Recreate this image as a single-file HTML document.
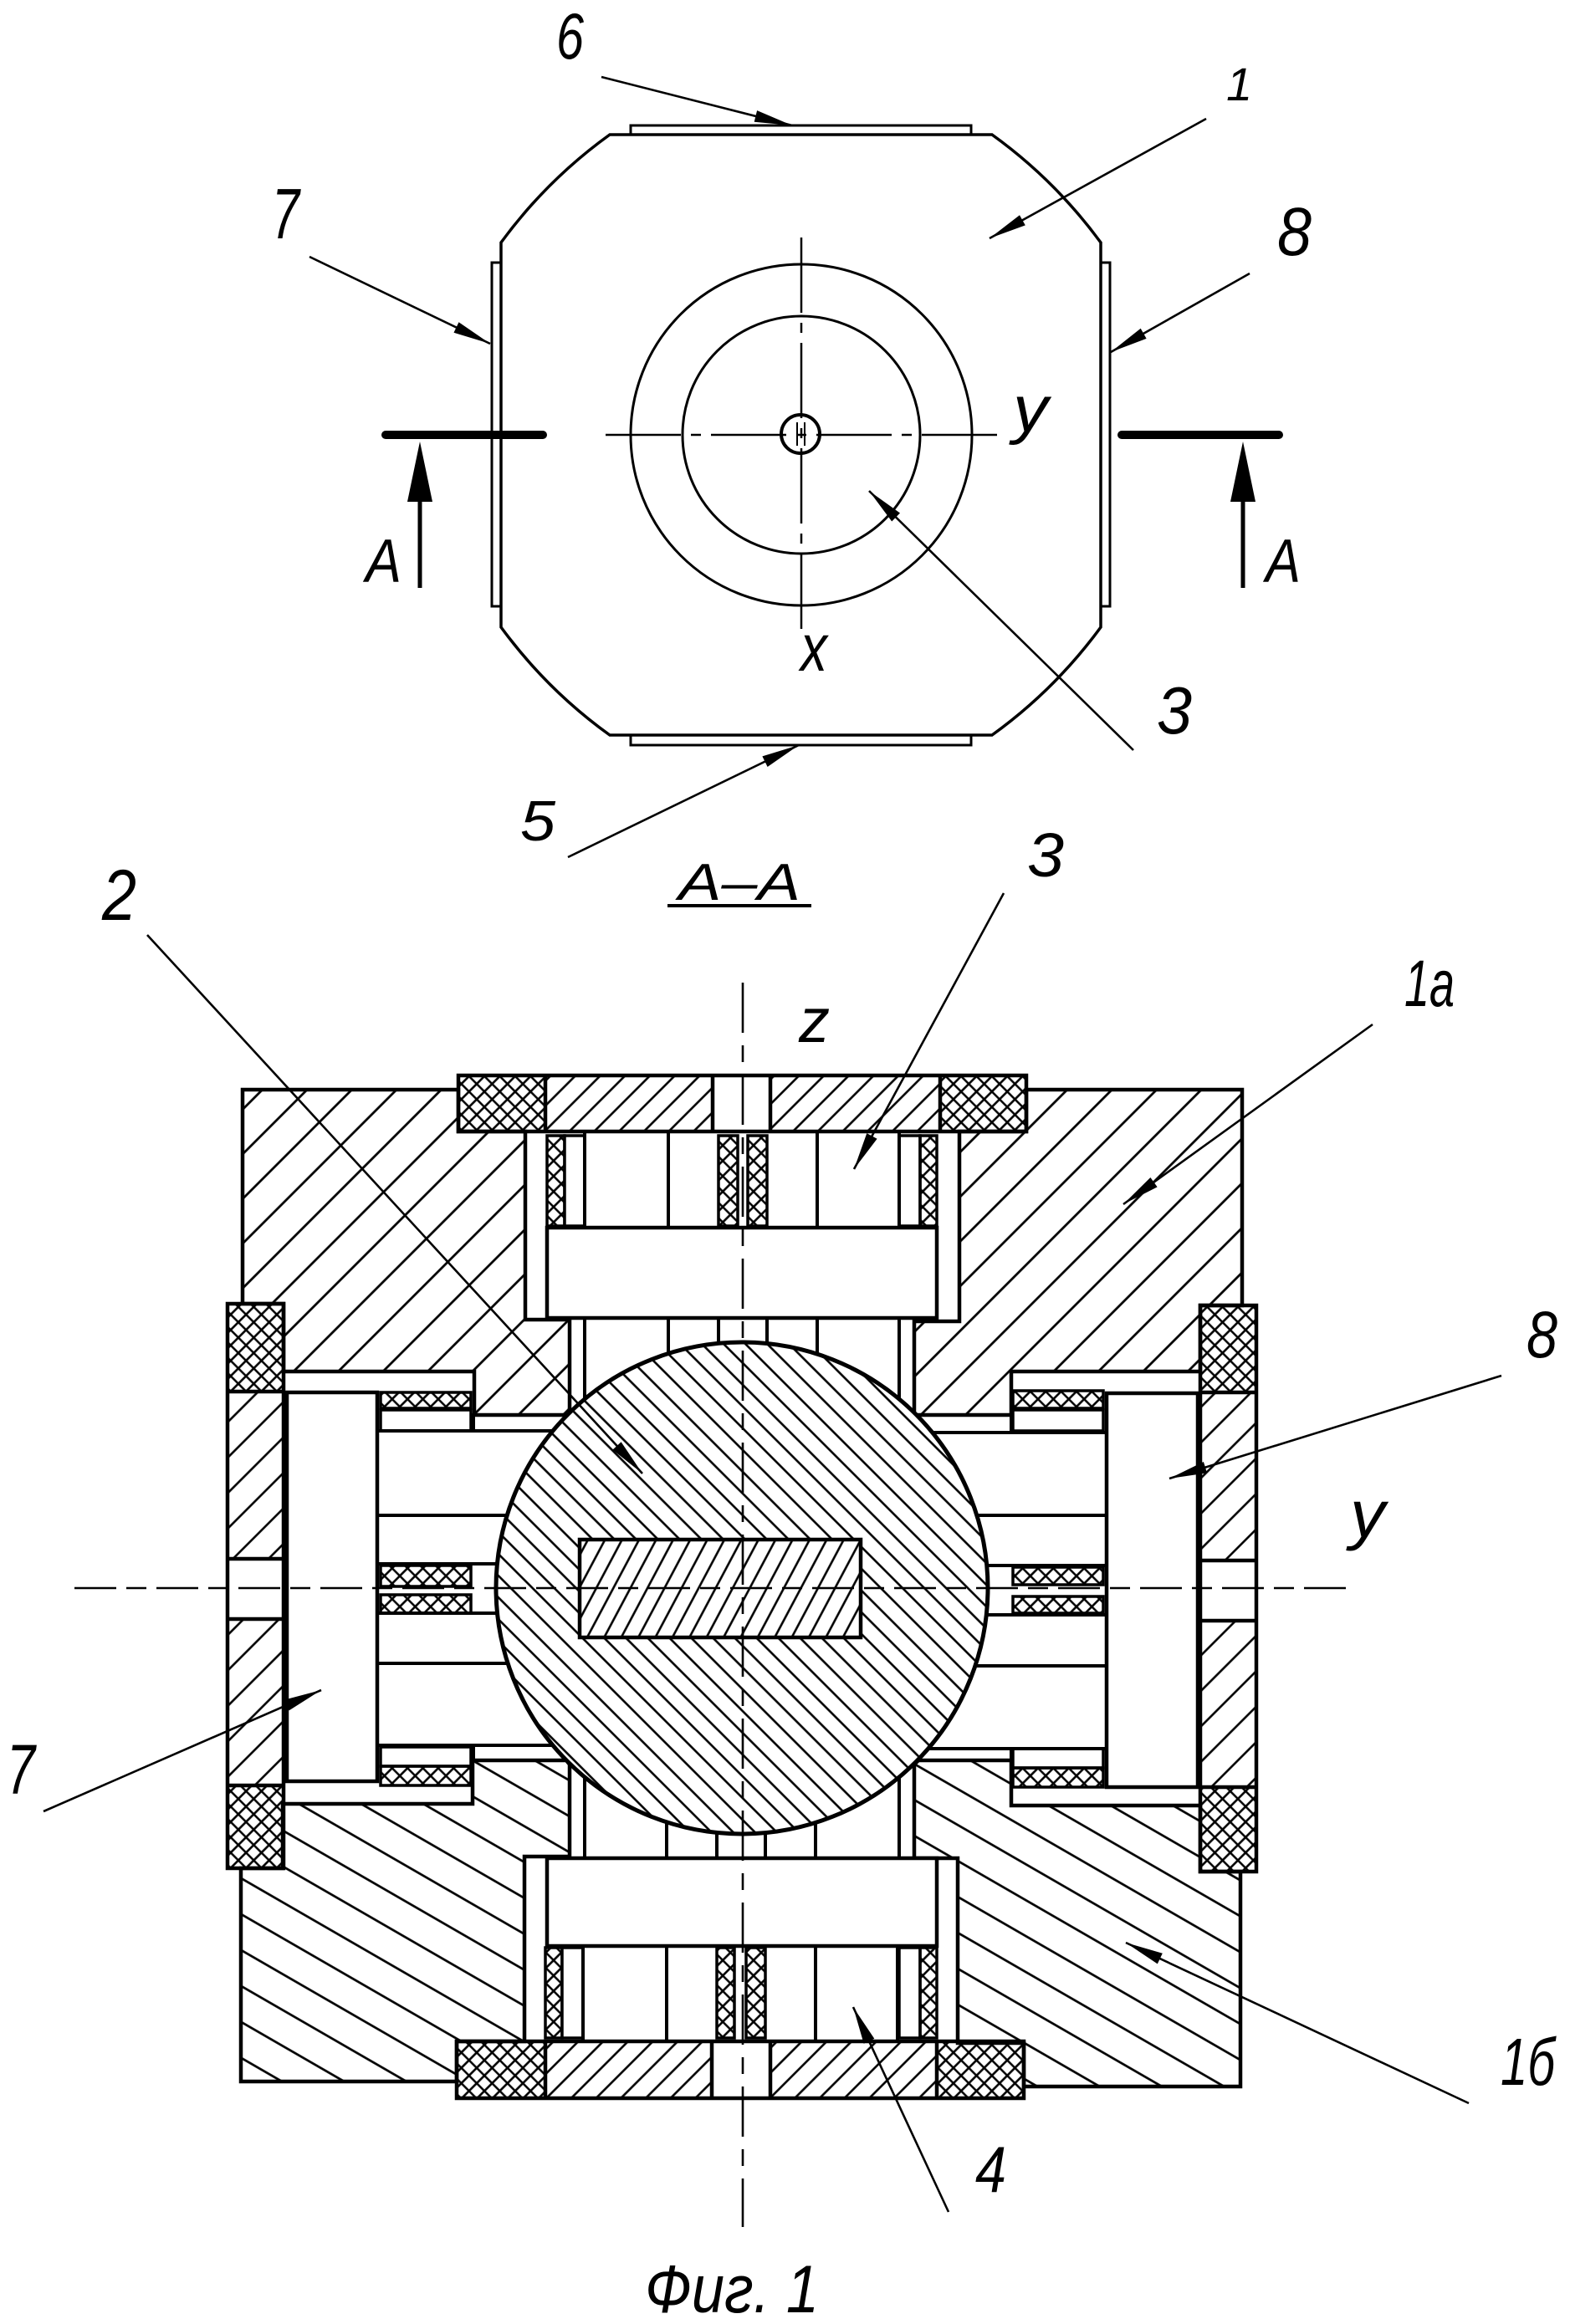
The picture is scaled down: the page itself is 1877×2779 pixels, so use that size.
<!DOCTYPE html>
<html>
<head>
<meta charset="utf-8">
<style>
html,body{margin:0;padding:0;background:#fff;}
body{width:1877px;height:2779px;overflow:hidden;}
svg{display:block;}
text{font-family:"Liberation Sans","DejaVu Sans",sans-serif;font-style:italic;fill:#000;}
</style>
</head>
<body>
<svg width="1877" height="2779" viewBox="0 0 1877 2779" xmlns="http://www.w3.org/2000/svg">
<defs>
  <pattern id="p1a" patternUnits="userSpaceOnUse" width="37.8" height="20" patternTransform="rotate(45)">
    <line x1="9.2" y1="-2" x2="9.2" y2="22" stroke="#000" stroke-width="2.8"/>
  </pattern>
  <pattern id="p1b" patternUnits="userSpaceOnUse" width="20" height="37.2" patternTransform="rotate(30)">
    <line x1="-2" y1="15.4" x2="22" y2="15.4" stroke="#000" stroke-width="2.8"/>
  </pattern>
  <pattern id="pball" patternUnits="userSpaceOnUse" width="18.4" height="20" patternTransform="rotate(-45)">
    <line x1="9" y1="-2" x2="9" y2="22" stroke="#000" stroke-width="2.6"/>
  </pattern>
  <pattern id="pkey" patternUnits="userSpaceOnUse" width="18" height="20" patternTransform="rotate(28)">
    <line x1="9" y1="-2" x2="9" y2="22" stroke="#000" stroke-width="2.6"/>
  </pattern>
  <pattern id="pplate" patternUnits="userSpaceOnUse" width="21" height="20" patternTransform="rotate(45)">
    <line x1="10" y1="-2" x2="10" y2="22" stroke="#000" stroke-width="2.6"/>
  </pattern>
  <pattern id="pside" patternUnits="userSpaceOnUse" width="30" height="20" patternTransform="rotate(45)">
    <line x1="15" y1="-2" x2="15" y2="22" stroke="#000" stroke-width="2.6"/>
  </pattern>
  <pattern id="px" patternUnits="userSpaceOnUse" width="13" height="13" patternTransform="rotate(45)">
    <path d="M6.5,-1 V14 M-1,6.5 H14" stroke="#000" stroke-width="2.6" fill="none"/>
  </pattern>
</defs>

<rect x="0" y="0" width="1877" height="2779" fill="#fff"/>

<!-- ================= TOP VIEW ================= -->
<g fill="#fff" stroke="#000" stroke-width="3">
  <rect x="754" y="150" width="407" height="11"/>
  <rect x="754" y="879" width="407" height="12"/>
  <rect x="588" y="314" width="11" height="411"/>
  <rect x="1316" y="314" width="11" height="411"/>
  <path d="M729,161 L1186,161 Q1261,215 1316,290 L1316,750 Q1261,825 1186,879 L729,879 Q654,825 599,750 L599,290 Q654,215 729,161 Z" stroke-width="3.5"/>
  <circle cx="958" cy="520" r="204"/>
  <circle cx="958" cy="520" r="142"/>
</g>
<g stroke="#000" fill="none">
  <line x1="724" y1="520" x2="1192" y2="520" stroke-width="2.5" stroke-dasharray="90 12 12 12"/>
  <line x1="958" y1="284" x2="958" y2="753" stroke-width="2.5" stroke-dasharray="90 12 12 12"/>
  <circle cx="957" cy="519" r="23" stroke-width="4"/>
  <line x1="953" y1="505" x2="953" y2="533" stroke-width="2"/>
  <line x1="962" y1="505" x2="962" y2="533" stroke-width="2"/>
</g>
<!-- section marks -->
<g stroke="#000" fill="none" stroke-linecap="round">
  <line x1="461" y1="520" x2="649" y2="520" stroke-width="10"/>
  <line x1="1341" y1="520" x2="1529" y2="520" stroke-width="10"/>
  <line x1="502" y1="590" x2="502" y2="703" stroke-width="5" stroke-linecap="butt"/>
  <line x1="1486" y1="590" x2="1486" y2="703" stroke-width="5" stroke-linecap="butt"/>
</g>
<polygon points="502,528 487,600 517,600" fill="#000"/>
<polygon points="1486,528 1471,600 1501,600" fill="#000"/>

<!-- top view leaders -->
<g stroke="#000" stroke-width="2.6" fill="none">
  <line x1="719" y1="92" x2="947" y2="150"/>
  <line x1="1442" y1="142" x2="1183" y2="285"/>
  <line x1="370" y1="307" x2="586" y2="411"/>
  <line x1="1494" y1="327" x2="1328" y2="421"/>
  <line x1="1355" y1="897" x2="1039" y2="587"/>
  <line x1="679" y1="1025" x2="955" y2="891"/>
  <line x1="798" y1="1083" x2="970" y2="1083" stroke-width="4"/>
</g>
<g fill="#000">
  <polygon points="947,150 901.7,145.7 905.1,132.1"/>
  <polygon points="1183,285 1219.0,257.2 1225.8,269.4"/>
  <polygon points="586,411 542.5,397.8 548.5,385.2"/>
  <polygon points="1328,421 1363.7,392.7 1370.6,404.9"/>
  <polygon points="1039,587 1076.0,613.5 1066.2,623.5"/>
  <polygon points="955,891 917.6,917.0 911.4,904.4"/>
</g>

<!-- top view labels -->
<text x="665" y="70" font-size="78" textLength="33" lengthAdjust="spacingAndGlyphs">6</text>
<text x="1466" y="120" font-size="56">1</text>
<text x="325" y="285" font-size="85" textLength="33" lengthAdjust="spacingAndGlyphs">7</text>
<text x="1527" y="305" font-size="82" textLength="41" lengthAdjust="spacingAndGlyphs">8</text>
<text x="1211" y="516" font-size="78" textLength="42" lengthAdjust="spacingAndGlyphs">y</text>
<text x="437" y="696" font-size="73" textLength="43" lengthAdjust="spacingAndGlyphs">A</text>
<text x="1513" y="696" font-size="73" textLength="42" lengthAdjust="spacingAndGlyphs">A</text>
<text x="957" y="802" font-size="80" textLength="32" lengthAdjust="spacingAndGlyphs">x</text>
<text x="1383" y="877" font-size="80" textLength="42" lengthAdjust="spacingAndGlyphs">3</text>
<text x="622" y="1005" font-size="68" textLength="42" lengthAdjust="spacingAndGlyphs">5</text>
<text x="811" y="1076" font-size="62" textLength="146" lengthAdjust="spacingAndGlyphs">A–A</text>

<!-- ================= SECTION A-A ================= -->
<!-- bodies -->
<g stroke="#000" stroke-width="4.5" stroke-linejoin="miter">
  <path d="M290,1303 L548,1303 L548,1353 L628,1353 L628,1578 L681,1578 L681,1692 L567,1692 L567,1640 L339,1640 L339,1559 L290,1559 Z" fill="url(#p1a)"/>
  <path d="M1485,1303 L1227,1303 L1227,1353 L1147,1353 L1147,1580 L1093,1580 L1093,1692 L1209,1692 L1209,1640 L1435,1640 L1435,1561 L1485,1561 Z" fill="url(#p1a)"/>
  <path d="M288,2234 L338,2234 L338,2157 L565,2157 L565,2105 L677,2105 L681,2110 L681,2220 L627,2220 L627,2441 L546,2441 L546,2489 L288,2489 Z" fill="url(#p1b)"/>
  <path d="M1483,2238 L1435,2238 L1435,2159 L1209,2159 L1209,2105 L1098,2105 L1093,2110 L1093,2222 L1145,2222 L1145,2443 L1224,2443 L1224,2495 L1483,2495 Z" fill="url(#p1b)"/>
</g>

<!-- plates -->
<g stroke="none">
  <rect x="548" y="1286" width="104" height="67" fill="url(#px)"/>
  <rect x="652" y="1286" width="200" height="67" fill="url(#pplate)"/>
  <rect x="921" y="1286" width="203" height="67" fill="url(#pplate)"/>
  <rect x="1124" y="1286" width="103" height="67" fill="url(#px)"/>
  <rect x="546" y="2441" width="106" height="68" fill="url(#px)"/>
  <rect x="652" y="2441" width="199" height="68" fill="url(#pplate)"/>
  <rect x="921" y="2441" width="199" height="68" fill="url(#pplate)"/>
  <rect x="1120" y="2441" width="104" height="68" fill="url(#px)"/>
  <rect x="272" y="1559" width="67" height="105" fill="url(#px)"/>
  <rect x="272" y="1664" width="67" height="200" fill="url(#pside)"/>
  <rect x="272" y="1936" width="67" height="199" fill="url(#pside)"/>
  <rect x="272" y="2135" width="67" height="99" fill="url(#px)"/>
  <rect x="1435" y="1561" width="67" height="104" fill="url(#px)"/>
  <rect x="1435" y="1665" width="67" height="201" fill="url(#pside)"/>
  <rect x="1435" y="1938" width="67" height="199" fill="url(#pside)"/>
  <rect x="1435" y="2137" width="67" height="101" fill="url(#px)"/>
</g>
<g stroke="#000" stroke-width="4.5" fill="none">
  <rect x="548" y="1286" width="679" height="67"/>
  <line x1="652" y1="1286" x2="652" y2="1353"/>
  <line x1="852" y1="1286" x2="852" y2="1353"/>
  <line x1="921" y1="1286" x2="921" y2="1353"/>
  <line x1="1124" y1="1286" x2="1124" y2="1353"/>
  <rect x="546" y="2441" width="678" height="68"/>
  <line x1="652" y1="2441" x2="652" y2="2509"/>
  <line x1="851" y1="2441" x2="851" y2="2509"/>
  <line x1="921" y1="2441" x2="921" y2="2509"/>
  <line x1="1120" y1="2441" x2="1120" y2="2509"/>
  <rect x="272" y="1559" width="67" height="675"/>
  <line x1="272" y1="1664" x2="339" y2="1664"/>
  <line x1="272" y1="1864" x2="339" y2="1864"/>
  <line x1="272" y1="1936" x2="339" y2="1936"/>
  <line x1="272" y1="2135" x2="339" y2="2135"/>
  <rect x="1435" y="1561" width="67" height="677"/>
  <line x1="1435" y1="1665" x2="1502" y2="1665"/>
  <line x1="1435" y1="1866" x2="1502" y2="1866"/>
  <line x1="1435" y1="1938" x2="1502" y2="1938"/>
  <line x1="1435" y1="2137" x2="1502" y2="2137"/>
</g>

<!-- seal strips -->
<g stroke="#000" stroke-width="3.5">
  <rect x="654" y="1358" width="21" height="108" fill="url(#px)"/>
  <rect x="675" y="1358" width="24" height="108" fill="#fff"/>
  <rect x="859" y="1358" width="23" height="108" fill="url(#px)"/>
  <rect x="894" y="1358" width="23" height="108" fill="url(#px)"/>
  <rect x="1075" y="1358" width="25" height="108" fill="#fff"/>
  <rect x="1100" y="1358" width="20" height="108" fill="url(#px)"/>

  <rect x="652" y="2329" width="20" height="108" fill="url(#px)"/>
  <rect x="672" y="2329" width="25" height="108" fill="#fff"/>
  <rect x="857" y="2329" width="21" height="108" fill="url(#px)"/>
  <rect x="892" y="2329" width="23" height="108" fill="url(#px)"/>
  <rect x="1075" y="2329" width="25" height="108" fill="#fff"/>
  <rect x="1100" y="2329" width="20" height="108" fill="url(#px)"/>

  <rect x="455" y="1665" width="108" height="19" fill="url(#px)"/>
  <rect x="455" y="1686" width="108" height="25" fill="#fff"/>
  <rect x="455" y="1872" width="108" height="25" fill="url(#px)"/>
  <rect x="455" y="1907" width="108" height="22" fill="url(#px)"/>
  <rect x="455" y="2089" width="108" height="23" fill="#fff"/>
  <rect x="455" y="2112" width="108" height="23" fill="url(#px)"/>

  <rect x="1211" y="1663" width="108" height="21" fill="url(#px)"/>
  <rect x="1211" y="1686" width="108" height="25" fill="#fff"/>
  <rect x="1211" y="1874" width="108" height="21" fill="url(#px)"/>
  <rect x="1211" y="1909" width="108" height="20" fill="url(#px)"/>
  <rect x="1211" y="2091" width="108" height="23" fill="#fff"/>
  <rect x="1211" y="2114" width="108" height="23" fill="url(#px)"/>
</g>

<!-- pistons -->
<g stroke="#000" stroke-width="4.5" fill="#fff">
  <rect x="343" y="1665" width="108" height="465"/>
  <rect x="1323" y="1666" width="109" height="471"/>
  <rect x="654" y="1468" width="466" height="108"/>
  <rect x="654" y="2222" width="466" height="105"/>
</g>

<!-- internal lines -->
<g stroke="#000" stroke-width="4">
  <line x1="699" y1="1353" x2="699" y2="1468"/>
  <line x1="799" y1="1353" x2="799" y2="1468"/>
  <line x1="977" y1="1353" x2="977" y2="1468"/>
  <line x1="1075" y1="1353" x2="1075" y2="1468"/>

  <line x1="699" y1="1576" x2="699" y2="1899"/>
  <line x1="799" y1="1576" x2="799" y2="1899"/>
  <line x1="859" y1="1576" x2="859" y2="1899"/>
  <line x1="917" y1="1576" x2="917" y2="1899"/>
  <line x1="977" y1="1576" x2="977" y2="1899"/>
  <line x1="1075" y1="1576" x2="1075" y2="1899"/>

  <line x1="699" y1="1899" x2="699" y2="2222"/>
  <line x1="797" y1="1899" x2="797" y2="2222"/>
  <line x1="857" y1="1899" x2="857" y2="2222"/>
  <line x1="915" y1="1899" x2="915" y2="2222"/>
  <line x1="975" y1="1899" x2="975" y2="2222"/>
  <line x1="1075" y1="1899" x2="1075" y2="2222"/>

  <line x1="697" y1="2327" x2="697" y2="2441"/>
  <line x1="797" y1="2327" x2="797" y2="2441"/>
  <line x1="975" y1="2327" x2="975" y2="2441"/>
  <line x1="1073" y1="2327" x2="1073" y2="2441"/>

  <line x1="451" y1="1711" x2="887" y2="1711"/>
  <line x1="451" y1="1812" x2="887" y2="1812"/>
  <line x1="451" y1="1870" x2="887" y2="1870"/>
  <line x1="451" y1="1929" x2="887" y2="1929"/>
  <line x1="451" y1="1989" x2="887" y2="1989"/>
  <line x1="451" y1="2087" x2="887" y2="2087"/>

  <line x1="887" y1="1713" x2="1323" y2="1713"/>
  <line x1="887" y1="1812" x2="1323" y2="1812"/>
  <line x1="887" y1="1872" x2="1323" y2="1872"/>
  <line x1="887" y1="1931" x2="1323" y2="1931"/>
  <line x1="887" y1="1992" x2="1323" y2="1992"/>
  <line x1="887" y1="2091" x2="1323" y2="2091"/>

  <line x1="566" y1="1690" x2="566" y2="1711"/>
  <line x1="566" y1="2087" x2="566" y2="2107"/>
  <line x1="1209" y1="1690" x2="1209" y2="1713"/>
  <line x1="1209" y1="2091" x2="1209" y2="2107"/>
</g>

<!-- ball -->
<circle cx="887" cy="1899" r="294" fill="#fff"/>
<circle cx="887" cy="1899" r="294" fill="url(#pball)" stroke="#000" stroke-width="5"/>
<rect x="693" y="1841" width="336" height="117" fill="#fff"/>
<rect x="693" y="1841" width="336" height="117" fill="url(#pkey)" stroke="#000" stroke-width="4.5"/>

<!-- axes -->
<g stroke="#000" stroke-width="2.6" fill="none">
  <line x1="888" y1="1175" x2="888" y2="2663" stroke-dasharray="60 15 20 15"/>
  <line x1="89" y1="1899" x2="1612" y2="1899" stroke-dasharray="50 12 24 12"/>
</g>

<!-- section leaders -->
<g stroke="#000" stroke-width="2.6" fill="none">
  <line x1="1200" y1="1068" x2="1021" y2="1398"/>
  <line x1="176" y1="1118" x2="768" y2="1762"/>
  <line x1="1641" y1="1225" x2="1343" y2="1440"/>
  <line x1="1795" y1="1645" x2="1398" y2="1768"/>
  <line x1="52" y1="2166" x2="384" y2="2021"/>
  <line x1="1134" y1="2645" x2="1020" y2="2400"/>
  <line x1="1756" y1="2515" x2="1346" y2="2323"/>
</g>
<g fill="#000">
  <polygon points="1021,1398 1036.3,1355.1 1048.6,1361.7"/>
  <polygon points="768,1762 732.4,1733.6 742.6,1724.2"/>
  <polygon points="1343,1440 1375.4,1408.0 1383.6,1419.4"/>
  <polygon points="1398,1768 1438.9,1748.0 1443.1,1761.4"/>
  <polygon points="384,2021 345.6,2045.4 340.0,2032.6"/>
  <polygon points="1020,2400 1045.3,2437.8 1032.7,2443.7"/>
  <polygon points="1346,2323 1389.8,2335.8 1383.8,2348.4"/>
</g>

<!-- section labels -->
<text x="1228" y="1048" font-size="74" textLength="44" lengthAdjust="spacingAndGlyphs">3</text>
<text x="955" y="1246" font-size="75" textLength="37" lengthAdjust="spacingAndGlyphs">z</text>
<text x="122" y="1100" font-size="86" textLength="41" lengthAdjust="spacingAndGlyphs">2</text>
<text x="1679" y="1203" font-size="79" textLength="60" lengthAdjust="spacingAndGlyphs">1а</text>
<text x="1825" y="1623" font-size="79" textLength="37" lengthAdjust="spacingAndGlyphs">8</text>
<text x="1614" y="1838" font-size="80" textLength="42" lengthAdjust="spacingAndGlyphs">y</text>
<text x="8" y="2145" font-size="84" textLength="34" lengthAdjust="spacingAndGlyphs">7</text>
<text x="1166" y="2621" font-size="78" textLength="37" lengthAdjust="spacingAndGlyphs">4</text>
<text x="1794" y="2493" font-size="80" textLength="65" lengthAdjust="spacingAndGlyphs">1б</text>
<text x="771" y="2765" font-size="81" textLength="208" lengthAdjust="spacingAndGlyphs">Фиг. 1</text>
</svg>
</body>
</html>
